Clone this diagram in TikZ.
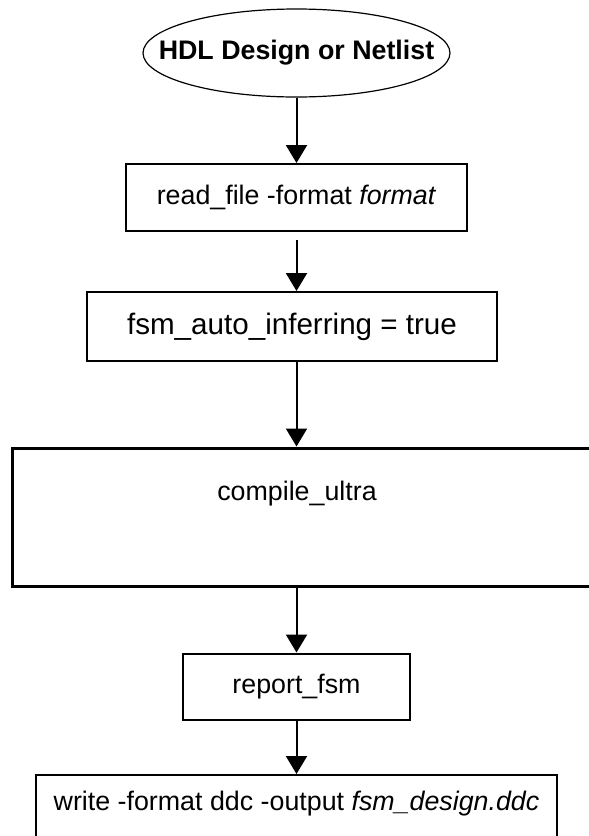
\documentclass[tikz,border=0pt]{standalone}
\usepackage{fontspec}
\setmainfont{Liberation Sans}
\usetikzlibrary{shapes.geometric,arrows.meta}

\tikzset{
  cmdbox/.style={draw, line width=1pt, inner sep=0pt,
                 font=\fontsize{13.4}{16}\selectfont},
  flow/.style={-{Triangle[width=10.5pt,length=9pt]}, line width=1pt},
}

\begin{document}
\begin{tikzpicture}[x=0.5pt,y=-0.5pt]
\useasboundingbox (0,0) rectangle (589,836);
\clip (0,0) rectangle (589,836);

% input
\node[ellipse, draw, line width=0.6pt, inner xsep=-14.6pt, minimum height=44pt,
      font=\fontsize{13.4}{16}\selectfont\bfseries] (hdl) at (296.5,53)
    {HDL Design or Netlist};

% steps
\node[cmdbox, minimum width=170.5pt, minimum height=33.5pt] (readfile)
    at (296.5,197.5) {read\_file -format \textit{format}};
\node[cmdbox, minimum width=205pt, minimum height=34.5pt,
      font=\fontsize{14.8}{17}\selectfont] (fsmvar)
    at (292,326.5) {fsm\_auto\_inferring = true};
\node[cmdbox, line width=1.5pt, minimum width=294pt,
      text height=26pt, text depth=43pt] (compile)
    at (306,517) {\hspace*{-9pt}compile\_ultra};
\node[cmdbox, minimum width=113.5pt, minimum height=33pt] (report)
    at (296.5,686.5) {report\_fsm};
\node[cmdbox, anchor=north, minimum width=260.5pt,
      text height=17.5pt, text depth=40pt] (writeddc)
    at (296.5,774) {write -format ddc -output \textit{fsm\_design.ddc}};

% arrows
\draw[flow] (hdl.south) -- (readfile.north);
\draw[flow, shorten <=4pt] (readfile.south) -- (readfile.south |- fsmvar.north);
\draw[flow] (readfile.south |- fsmvar.south) -- (readfile.south |- compile.north);
\draw[flow] (readfile.south |- compile.south) -- (report.north);
\draw[flow] (report.south) -- (writeddc.north);
\end{tikzpicture}
\end{document}
